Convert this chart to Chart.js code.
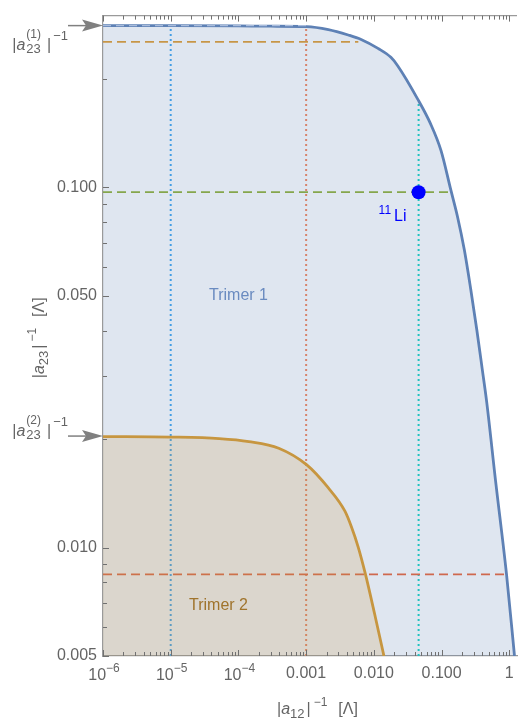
<!DOCTYPE html>
<html><head><meta charset="utf-8">
<script src="https://cdn.jsdelivr.net/npm/chart.js@4/dist/chart.umd.min.js"></script>
<style>html,body{margin:0;padding:0;background:#fff}canvas{display:block}</style>
</head><body>
<canvas id="c" width="524" height="720"></canvas>
<script>
// ---- data ----
const trimer1X = [1e-6, 1e-5, 1e-4, 3e-4, 1.0125e-3, 0.002128, 0.004178, 0.006484, 0.01151, 0.01784, 0.02259, 0.0444, 0.06887, 0.09819, 0.1375, 0.1713, 0.2171, 0.2703, 0.3309, 0.3986, 0.4637, 0.6285, 0.9112, 1.194];
const trimer1Y = [0.2814, 0.2813, 0.2808, 0.2803, 0.2797, 0.2744, 0.2650, 0.2575, 0.2432, 0.2297, 0.2174, 0.1759, 0.1501, 0.1265, 0.0981, 0.0832, 0.0670, 0.0520, 0.04033, 0.03129, 0.02538, 0.01527, 0.00841, 0.005];
const trimer2X = [1e-6, 1e-5, 5.19e-5, 1.429e-4, 3.94e-4, 1.0125e-3, 0.002128, 0.00374, 0.004673, 0.005857, 0.007494, 0.01029, 0.01409];
const trimer2Y = [0.02033, 0.02027, 0.02008, 0.0197, 0.01888, 0.01699, 0.01464, 0.01262, 0.01141, 0.01005, 0.00845, 0.00653, 0.005];
const li11X = [0.0458];
const li11Y = [0.097];
const a23Inv = [0.2814, 0.0204];           // |a23(1)|^-1, |a23(2)|^-1
const hLineY = [0.2535, 0.097, 0.00843];   // orange, green, red dashed
const hLineXEnd = [0.0059, 0.140, 0.911];
const vLineX = [1e-5, 0.001, 0.0458];      // blue, red, cyan dotted
const vLineYEnd = [0.2813, 0.2797, 0.174];
const xTicks = [1e-6, 1e-5, 1e-4, 1e-3, 1e-2, 1e-1, 1];
const xTickLabels = ['10^-6', '10^-5', '10^-4', '0.001', '0.010', '0.100', '1'];
const yTicks = [0.005, 0.01, 0.05, 0.1];
const yTickLabels = ['0.005', '0.010', '0.050', '0.100'];
const xMin = 1e-6, xMax = 1.3, yMin = 0.005, yMax = 0.3;

// ---- styles ----
const FONT = "'Liberation Sans', Arial, sans-serif";
const TXT = '#646464';
const hColors = ['#e29c2c', '#8fb032', '#eb6235'];
const vColors = ['#3ea6f0', '#f4845a', '#12d3c4'];

function fnt(size, italic) { return (italic ? 'italic ' : '') + size + 'px ' + FONT; }
function measureParts(ctx, parts) {
  let w = 0;
  for (const p of parts) {
    if (p.stack) {
      let m = 0;
      for (const q of p.stack) { ctx.font = fnt(q.size, q.italic); m = Math.max(m, ctx.measureText(q.t).width); }
      p._w = m;
    } else { ctx.font = fnt(p.size, p.italic); p._w = ctx.measureText(p.t).width; }
    w += p._w + (p.gap || 0);
  }
  return w;
}
function drawParts(ctx, parts, x, y, align, color) {
  const w = measureParts(ctx, parts);
  let cx = align === 'right' ? x - w : align === 'center' ? x - w / 2 : x;
  ctx.fillStyle = color; ctx.textBaseline = 'alphabetic'; ctx.textAlign = 'left';
  for (const p of parts) {
    if (p.stack) {
      for (const q of p.stack) { ctx.font = fnt(q.size, q.italic); ctx.fillText(q.t, cx, y + (q.dy || 0)); }
    } else { ctx.font = fnt(p.size, p.italic); ctx.fillText(p.t, cx, y + (p.dy || 0)); }
    cx += p._w + (p.gap || 0);
  }
}

const pts = (xs, ys) => xs.map((x, i) => ({ x, y: ys[i] }));

const datasets = [
  { label: '11Li', data: pts(li11X, li11Y), showLine: false, pointRadius: 7, pointHoverRadius: 7,
    backgroundColor: '#0000ff', borderWidth: 0, order: 0 },
  { label: 'a23(1) level', data: [{ x: xMin, y: a23Inv[0] }, { x: 1e-3, y: a23Inv[0] }], showLine: true,
    borderColor: '#a9bcdc', borderWidth: 1.2, borderDash: [8, 5], pointRadius: 0, fill: false, order: 0.5 },
  { label: 'Trimer 1', data: pts(trimer1X, trimer1Y), showLine: true, borderColor: '#5e81b5', borderWidth: 2.8,
    pointRadius: 0, fill: 'start', backgroundColor: 'rgba(94,129,181,0.2)', cubicInterpolationMode: 'monotone', order: 1 },
  { label: 'Trimer 2', data: pts(trimer2X, trimer2Y), showLine: true, borderColor: '#e19c24', borderWidth: 2.8,
    pointRadius: 0, fill: 'start', backgroundColor: 'rgba(225,156,36,0.2)', cubicInterpolationMode: 'monotone', order: 1 }
];
hLineY.forEach((y, i) => datasets.push({ label: 'h' + i, data: [{ x: xMin, y }, { x: hLineXEnd[i], y }], showLine: true,
  borderColor: hColors[i], borderWidth: 1.8, borderDash: [9, 5], pointRadius: 0, fill: false, order: 2 }));
vLineX.forEach((x, i) => datasets.push({ label: 'v' + i, data: [{ x, y: yMin }, { x, y: vLineYEnd[i] }], showLine: true,
  borderColor: vColors[i], borderWidth: 2, borderDash: [2, 3], pointRadius: 0, fill: false, order: 2 }));

const decorPlugin = {
  id: 'decor',
  afterDraw(chart) {
    const ctx = chart.ctx, xs = chart.scales.x, ys = chart.scales.y, ca = chart.chartArea;
    ctx.save();
    // top frame
    ctx.strokeStyle = '#9a9a9a'; ctx.lineWidth = 1.2;
    ctx.beginPath(); ctx.moveTo(ca.left, ca.top); ctx.lineTo(ca.right, ca.top); ctx.stroke();
    // ticks
    ctx.strokeStyle = '#707070'; ctx.lineWidth = 1;
    const xt = [];
    xTicks.forEach(d => { xt.push([d, 6]); for (let m = 2; m <= 9; m++) if (m * d <= xMax) xt.push([m * d, 4]); });
    ctx.beginPath();
    xt.forEach(([v, len]) => {
      const px = Math.round(xs.getPixelForValue(v)) + 0.5;
      ctx.moveTo(px, ca.bottom); ctx.lineTo(px, ca.bottom - len);
      ctx.moveTo(px, ca.top); ctx.lineTo(px, ca.top + len);
    });
    const yt = [];
    [0.001, 0.01, 0.1].forEach(d => { for (let m = 1; m <= 9; m++) { const v = m * d; if (v >= yMin - 1e-12 && v < yMax - 1e-9) yt.push([v, yTicks.some(t => Math.abs(t - v) < 1e-9) ? 6 : 4]); } });
    yt.forEach(([v, len]) => {
      const py = Math.round(ys.getPixelForValue(v)) + 0.5;
      ctx.moveTo(ca.left, py); ctx.lineTo(ca.left + len, py);
    });
    ctx.stroke();

    // x power-of-ten labels
    xTickLabels.forEach((lab, i) => {
      if (lab.indexOf('^') < 0) return;
      const [b, e] = lab.split('^');
      drawParts(ctx, [{ t: b, size: 16 }, { t: e.replace('-', '\u2212'), size: 12, dy: -8 }],
        xs.getPixelForValue(xTicks[i]) + 1, 679.5, 'center', TXT);
    });

    // special y labels with arrows
    const offs = [24, 0];
    a23Inv.forEach((v, i) => {
      const py = ys.getPixelForValue(v);
      ctx.strokeStyle = '#808080'; ctx.fillStyle = '#808080'; ctx.lineWidth = 1.5;
      ctx.beginPath(); ctx.moveTo(68, py); ctx.lineTo(88, py); ctx.stroke();
      ctx.beginPath(); ctx.moveTo(ca.left, py); ctx.lineTo(82, py - 6); ctx.lineTo(86, py); ctx.lineTo(82, py + 6); ctx.closePath(); ctx.fill();
      drawParts(ctx, [
        { t: '|', size: 16 }, { t: 'a', size: 16, italic: true, gap: 1 },
        { stack: [{ t: '(' + (i + 1) + ')', size: 12, dy: -12 }, { t: '23', size: 13, dy: 3 }], gap: 6 },
        { t: '|', size: 16, gap: 2 }, { t: '\u22121', size: 13, dy: -10 }
      ], 68, py + offs[i], 'right', TXT);
    });

    // axis titles
    const titleParts = sub => [
      { t: '|', size: 16 }, { t: 'a', size: 16, italic: true }, { t: sub, size: 13, dy: 4, gap: 2 },
      { t: '|', size: 16, gap: 3 }, { t: '\u22121', size: 12, dy: -8, gap: 11 }, { t: '[\u039b]', size: 16 }
    ];
    drawParts(ctx, titleParts('12'), 277, 714, 'left', TXT);
    ctx.save();
    ctx.translate(44, (ca.top + ca.bottom) / 2 + 2);
    ctx.rotate(-Math.PI / 2);
    drawParts(ctx, titleParts('23'), 0, 0, 'center', TXT);
    ctx.restore();

    // region labels
    drawParts(ctx, [{ t: 'Trimer 1', size: 16 }], 209, 300, 'left', '#6a8bc0');
    drawParts(ctx, [{ t: 'Trimer 2', size: 16 }], 189, 610, 'left', '#a0742c');
    // 11Li label
    const lx = xs.getPixelForValue(li11X[0]), ly = ys.getPixelForValue(li11Y[0]);
    drawParts(ctx, [{ t: '11', size: 12, dy: -7, gap: 3 }, { t: 'Li', size: 16 }], lx - 40, ly + 29, 'left', '#0000ff');
    ctx.restore();
  }
};

new Chart(document.getElementById('c'), {
  type: 'scatter',
  data: { datasets },
  options: {
    responsive: false, animation: false, devicePixelRatio: 1,
    layout: { padding: { top: 11, right: 4, left: 0, bottom: 0 } },
    plugins: { legend: { display: false }, tooltip: { enabled: false } },
    scales: {
      x: {
        type: 'logarithmic', min: xMin, max: xMax, position: 'bottom',
        grid: { display: false, drawTicks: false },
        border: { display: true, color: '#9a9a9a', width: 1.2 },
        afterBuildTicks: s => { s.ticks = xTicks.map(v => ({ value: v })); },
        afterFit: s => { s.height = 64; },
        ticks: { padding: 8, color: TXT, font: { family: FONT, size: 16 }, maxRotation: 0, autoSkip: false,
          callback: (v) => { const i = xTicks.findIndex(t => Math.abs(t - v) / t < 1e-6); const l = xTickLabels[i]; return (l && l.indexOf('^') < 0) ? l : ''; } }
      },
      y: {
        type: 'logarithmic', min: yMin, max: yMax, position: 'left',
        grid: { display: false, drawTicks: false },
        border: { display: true, color: '#9a9a9a', width: 1.2 },
        afterBuildTicks: s => { s.ticks = yTicks.map(v => ({ value: v })); },
        afterFit: s => { s.width = 103; },
        ticks: { padding: 6, color: TXT, font: { family: FONT, size: 16 }, autoSkip: false,
          callback: (v) => { const i = yTicks.findIndex(t => Math.abs(t - v) / t < 1e-6); return i >= 0 ? yTickLabels[i] : ''; } }
      }
    }
  },
  plugins: [decorPlugin]
});
</script>
</body></html>
